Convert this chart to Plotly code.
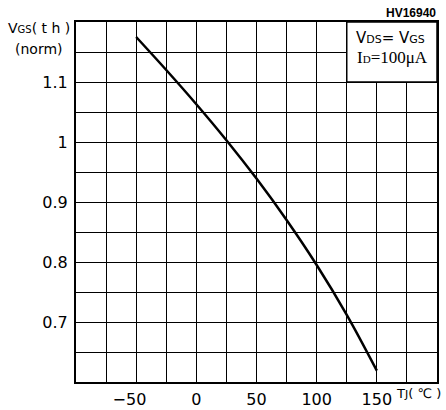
import plotly.graph_objects as go

# Data
temp_c = [-50, -25, 0, 25, 50, 75, 100, 125, 150]
vgs_norm = [1.175, 1.120, 1.063, 1.003, 0.939, 0.870, 0.795, 0.712, 0.619]

x_grid = [-100, -75, -50, -25, 0, 25, 50, 75, 100, 125, 150, 175, 200]
x_labels = ["", "", "−50<span style='color:white'>−</span>", "", "0", "", "50", "", "100", "", "150", "", ""]
y_grid = [0.6, 0.65, 0.7, 0.75, 0.8, 0.85, 0.9, 0.95, 1.0, 1.05, 1.1, 1.15, 1.2]
y_labels = ["", "", "0.7", "", "0.8", "", "0.9", "", "1", "", "1.1", "", ""]

fig = go.Figure()
fig.add_trace(go.Scatter(
    x=temp_c, y=vgs_norm, mode="lines",
    line=dict(color="black", width=2.5, shape="spline", smoothing=1.0),
    showlegend=False, hoverinfo="skip",
))

fig.update_layout(
    width=446, height=410,
    margin=dict(l=76, r=9, t=22, b=28),
    paper_bgcolor="white", plot_bgcolor="white",
    font=dict(family="DejaVu Sans, Arial, sans-serif", color="black", size=16),
    xaxis=dict(
        range=[-100, 200], tickmode="array", tickvals=x_grid, ticktext=x_labels,
        showgrid=True, gridcolor="black", gridwidth=1,
        showline=True, linecolor="black", linewidth=2, mirror=True,
        ticks="", zeroline=False, ticklabelstandoff=2, automargin=False,
        tickfont=dict(size=16),
    ),
    yaxis=dict(
        range=[0.6, 1.2], tickmode="array", tickvals=y_grid, ticktext=y_labels,
        showgrid=True, gridcolor="black", gridwidth=1,
        showline=True, linecolor="black", linewidth=2, mirror=True,
        ticks="", zeroline=False, ticklabelstandoff=3, automargin=False,
        tickfont=dict(size=16),
    ),
)

# white condition box in upper right
fig.add_shape(type="rect", x0=125, x1=200, y0=1.1, y1=1.2, xref="x", yref="y",
              fillcolor="white", line=dict(color="black", width=1.5), layer="above")

annos = [
    dict(text="V<span style='font-size:10px'>GS</span>( t h )", x=-0.011, y=0.983,
         xanchor="right", yanchor="middle", font=dict(family="DejaVu Sans", size=14)),
    dict(text="(norm)", x=-0.03, y=0.925, xanchor="right", yanchor="middle",
         font=dict(family="DejaVu Sans", size=14)),
    dict(text="<b>HV16940</b>", x=1.003, y=1.024, xanchor="right", yanchor="middle",
         font=dict(family="Liberation Sans", size=12)),
    dict(text="T<span style='font-size:11px'>J</span>( ℃ )", x=0.882, y=-0.033,
         xanchor="left", yanchor="middle", font=dict(family="DejaVu Sans", size=13)),
]
for a in annos:
    fig.add_annotation(xref="paper", yref="paper", showarrow=False, **a)

fig.add_annotation(xref="x", yref="y", x=161, y=1.173, showarrow=False,
                   text="V<span style='font-size:11px'>DS</span>= V<span style='font-size:11px'>GS</span>",
                   font=dict(family="DejaVu Sans", size=15), xanchor="center", yanchor="middle")
fig.add_annotation(xref="x", yref="y", x=163, y=1.141, showarrow=False,
                   text="I<span style='font-size:11px'>D</span>=100μA",
                   font=dict(family="Liberation Serif", size=17), xanchor="center", yanchor="middle")

fig.write_html("out.html")
